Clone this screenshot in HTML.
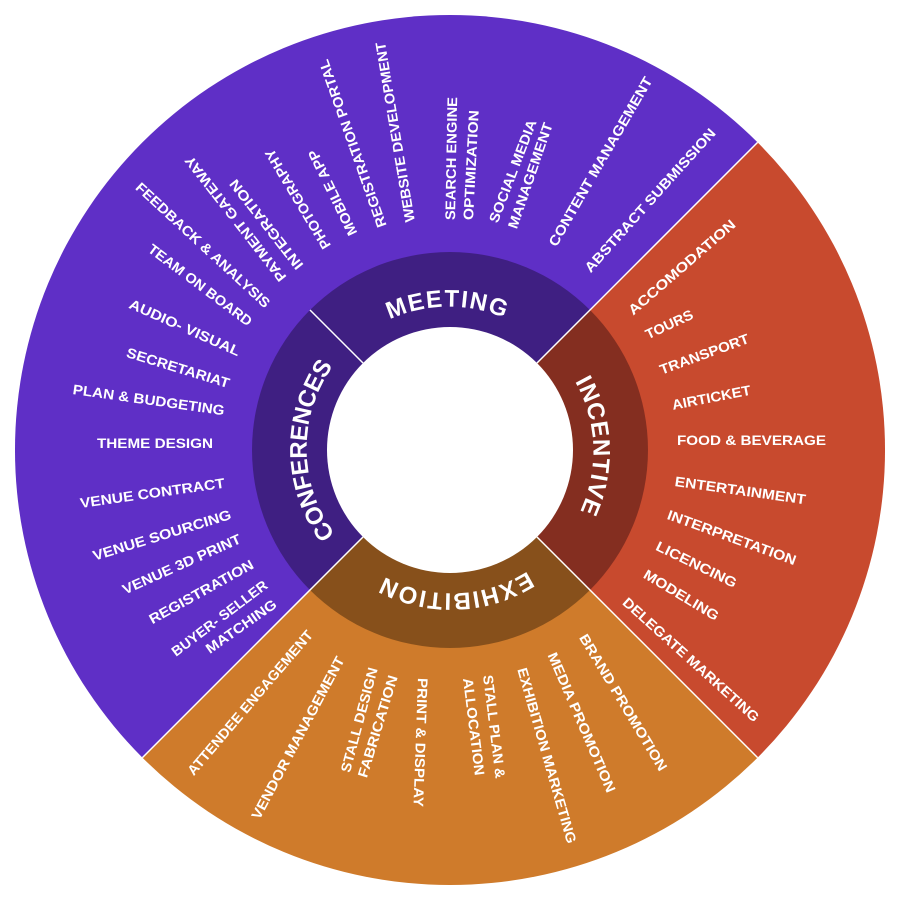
<!DOCTYPE html>
<html><head><meta charset="utf-8"><style>
html,body{margin:0;padding:0;background:#fff;}
svg{display:block;}
.l{font-family:"Liberation Sans",sans-serif;font-weight:bold;font-size:14px;fill:#fff;dominant-baseline:central;}
.r{font-family:"Liberation Sans",sans-serif;font-weight:bold;font-size:24px;fill:#fff;}
</style></head><body>
<svg width="900" height="900" viewBox="0 0 900 900" xmlns="http://www.w3.org/2000/svg">
<defs>
<path id="ring" d="M349.6,550.4 A142,142 0 1 1 550.4,349.6 A142,142 0 1 1 349.6,550.4"/>
</defs>
<path d="M450,450 L142.4,757.6 A435,435 0 0 1 757.6,142.4 Z" fill="#5f2fc6"/>
<path d="M450,450 L757.6,142.4 A435,435 0 0 1 757.6,757.6 Z" fill="#c84a2e"/>
<path d="M450,450 L757.6,757.6 A435,435 0 0 1 142.4,757.6 Z" fill="#cf7b2b"/>
<path d="M450,450 L310,590 A198,198 0 0 1 310,310 Z" fill="#3f1f82"/>
<path d="M450,450 L310,310 A198,198 0 0 1 590,310 Z" fill="#3f1f82"/>
<path d="M450,450 L590,310 A198,198 0 0 1 590,590 Z" fill="#842e20"/>
<path d="M450,450 L590,590 A198,198 0 0 1 310,590 Z" fill="#87501b"/>
<g stroke="#fff" stroke-width="1.5">
<line x1="537" y1="363" x2="757.6" y2="142.4"/>
<line x1="537" y1="537" x2="757.6" y2="757.6"/>
<line x1="363" y1="537" x2="142.4" y2="757.6"/>
<line x1="363" y1="363" x2="310" y2="310"/>
</g>
<circle cx="450" cy="450" r="123" fill="#fff"/>
<text class="r"><textPath href="#ring" startOffset="111.5" text-anchor="middle" textLength="180" lengthAdjust="spacing">CONFERENCES</textPath></text>
<text class="r"><textPath href="#ring" startOffset="334.6" text-anchor="middle" textLength="118" lengthAdjust="spacing">MEETING</textPath></text>
<text class="r"><textPath href="#ring" startOffset="557.6" text-anchor="middle" textLength="135" lengthAdjust="spacing">INCENTIVE</textPath></text>
<text class="r"><textPath href="#ring" startOffset="780.7" text-anchor="middle" textLength="150" lengthAdjust="spacing">EXHIBITION</textPath></text>
<g class="l">
<text transform="translate(283,280) rotate(-128)" textLength="155" lengthAdjust="spacingAndGlyphs">PAYMENT GATEWAY</text>
<text transform="translate(300,268) rotate(-128)" textLength="110" lengthAdjust="spacingAndGlyphs">INTEGRATION</text>
<text transform="translate(327,248) rotate(-121)" textLength="114" lengthAdjust="spacingAndGlyphs">PHOTOGRAPHY</text>
<text transform="translate(353,235) rotate(-116)" textLength="94" lengthAdjust="spacingAndGlyphs">MOBILE APP</text>
<text transform="translate(382,227) rotate(-109.5)" textLength="177" lengthAdjust="spacingAndGlyphs">REGISTRATION PORTAL</text>
<text transform="translate(410,222) rotate(-99.5)" textLength="182" lengthAdjust="spacingAndGlyphs">WEBSITE DEVELOPMENT</text>
<text transform="translate(450,220) rotate(-89)" textLength="123" lengthAdjust="spacingAndGlyphs">SEARCH ENGINE</text>
<text transform="translate(468,220) rotate(-87)" textLength="110" lengthAdjust="spacingAndGlyphs">OPTIMIZATION</text>
<text transform="translate(493,222) rotate(-69)" textLength="109" lengthAdjust="spacingAndGlyphs">SOCIAL MEDIA</text>
<text transform="translate(512,228) rotate(-71)" textLength="111" lengthAdjust="spacingAndGlyphs">MANAGEMENT</text>
<text transform="translate(552,245) rotate(-60)" textLength="193" lengthAdjust="spacingAndGlyphs">CONTENT MANAGEMENT</text>
<text transform="translate(587,270) rotate(-48)" textLength="188" lengthAdjust="spacingAndGlyphs">ABSTRACT SUBMISSION</text>
<text transform="translate(138,185) rotate(42.7)" textLength="177" lengthAdjust="spacingAndGlyphs">FEEDBACK &amp; ANALYSIS</text>
<text transform="translate(150,247) rotate(37)" textLength="126" lengthAdjust="spacingAndGlyphs">TEAM ON BOARD</text>
<text transform="translate(130,303) rotate(24)" textLength="120" lengthAdjust="spacingAndGlyphs">AUDIO- VISUAL</text>
<text transform="translate(127,352) rotate(17)" textLength="107" lengthAdjust="spacingAndGlyphs">SECRETARIAT</text>
<text transform="translate(73,389) rotate(8)" textLength="153" lengthAdjust="spacingAndGlyphs">PLAN &amp; BUDGETING</text>
<text transform="translate(97,443)" textLength="116" lengthAdjust="spacingAndGlyphs">THEME DESIGN</text>
<text transform="translate(80,503) rotate(-8)" textLength="146" lengthAdjust="spacingAndGlyphs">VENUE CONTRACT</text>
<text transform="translate(93,556) rotate(-17)" textLength="144" lengthAdjust="spacingAndGlyphs">VENUE SOURCING</text>
<text transform="translate(123,590) rotate(-24)" textLength="128" lengthAdjust="spacingAndGlyphs">VENUE 3D PRINT</text>
<text transform="translate(150,620) rotate(-29)" textLength="117" lengthAdjust="spacingAndGlyphs">REGISTRATION</text>
<text transform="translate(173,653) rotate(-37)" textLength="116" lengthAdjust="spacingAndGlyphs">BUYER- SELLER</text>
<text transform="translate(207,650) rotate(-35)" textLength="83" lengthAdjust="spacingAndGlyphs">MATCHING</text>
<text transform="translate(630,312) rotate(-41)" textLength="137" lengthAdjust="spacingAndGlyphs">ACCOMODATION</text>
<text transform="translate(646,335) rotate(-25)" textLength="51" lengthAdjust="spacingAndGlyphs">TOURS</text>
<text transform="translate(660,370) rotate(-20)" textLength="94" lengthAdjust="spacingAndGlyphs">TRANSPORT</text>
<text transform="translate(672,405) rotate(-11)" textLength="80" lengthAdjust="spacingAndGlyphs">AIRTICKET</text>
<text transform="translate(677,440)" textLength="149" lengthAdjust="spacingAndGlyphs">FOOD &amp; BEVERAGE</text>
<text transform="translate(675,481) rotate(8)" textLength="132" lengthAdjust="spacingAndGlyphs">ENTERTAINMENT</text>
<text transform="translate(668,514) rotate(20)" textLength="136" lengthAdjust="spacingAndGlyphs">INTERPRETATION</text>
<text transform="translate(657,545) rotate(26)" textLength="88" lengthAdjust="spacingAndGlyphs">LICENCING</text>
<text transform="translate(645,573) rotate(31)" textLength="85" lengthAdjust="spacingAndGlyphs">MODELING</text>
<text transform="translate(625,600) rotate(42)" textLength="178" lengthAdjust="spacingAndGlyphs">DELEGATE MARKETING</text>
<text transform="translate(583,635) rotate(59)" textLength="157" lengthAdjust="spacingAndGlyphs">BRAND PROMOTION</text>
<text transform="translate(552,653) rotate(66.7)" textLength="151" lengthAdjust="spacingAndGlyphs">MEDIA PROMOTION</text>
<text transform="translate(522,668) rotate(74)" textLength="182" lengthAdjust="spacingAndGlyphs">EXHIBITION MARKETING</text>
<text transform="translate(488,675) rotate(83)" textLength="104" lengthAdjust="spacingAndGlyphs">STALL PLAN &amp;</text>
<text transform="translate(468,678) rotate(83)" textLength="98" lengthAdjust="spacingAndGlyphs">ALLOCATION</text>
<text transform="translate(423,678) rotate(92)" textLength="129" lengthAdjust="spacingAndGlyphs">PRINT &amp; DISPLAY</text>
<text transform="translate(345,772) rotate(-75)" textLength="108" lengthAdjust="spacingAndGlyphs">STALL DESIGN</text>
<text transform="translate(362,777) rotate(-73)" textLength="106" lengthAdjust="spacingAndGlyphs">FABRICATION</text>
<text transform="translate(255,818) rotate(-62)" textLength="182" lengthAdjust="spacingAndGlyphs">VENDOR MANAGEMENT</text>
<text transform="translate(190,773) rotate(-49.6)" textLength="185" lengthAdjust="spacingAndGlyphs">ATTENDEE ENGAGEMENT</text>
</g>
</svg>
</body></html>
